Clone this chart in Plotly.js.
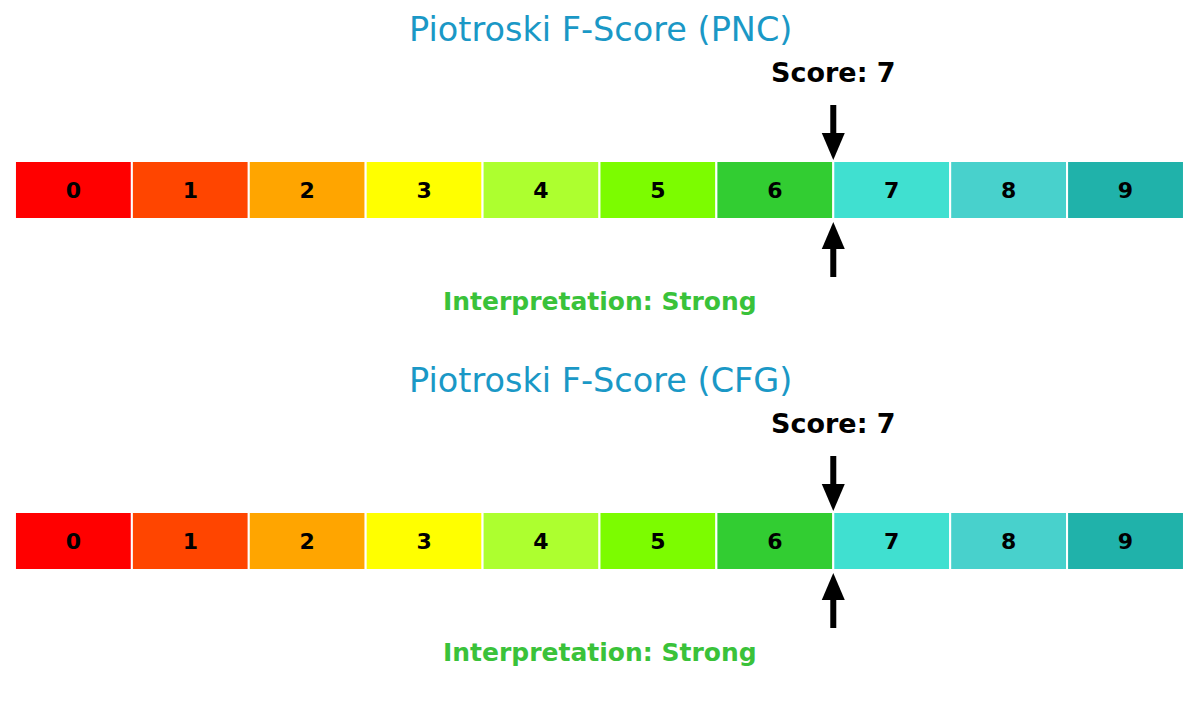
<!DOCTYPE html>
<html>
<head>
<meta charset="utf-8">
<script src="https://cdn.plot.ly/plotly-3.0.1.min.js"></script>
<style>html,body{margin:0;padding:0;background:#fff;}#chart{width:1200px;height:702px;}</style>
</head>
<body>
<div id="chart"></div>
<script>
// ---- data ----
var tickers = ["PNC", "CFG"];
var scores = [7, 7];
var interpretations = ["Strong", "Strong"];
var levels = [0, 1, 2, 3, 4, 5, 6, 7, 8, 9];
var levelLabels = ["0", "1", "2", "3", "4", "5", "6", "7", "8", "9"];
var levelColors = ["#FF0000", "#FF4500", "#FFA500", "#FFFF00", "#ADFF2F",
                   "#7CFC00", "#32CD32", "#40E0D0", "#48D1CC", "#20B2AA"];

// ---- styling constants ----
var FONT = "DejaVu Sans, Verdana, sans-serif";
var titleColor = "#1a98c6";
var interpColor = "#3ac23a";
var PXX = 116.9, PXY = 58; // px per unit (x / y)

var traces = [], annotations = [], shapes = [];
var layout = {
  width: 1200, height: 702,
  margin: {l: 0, r: 0, t: 0, b: 0},
  paper_bgcolor: "#ffffff", plot_bgcolor: "#ffffff",
  showlegend: false,
  bargap: 0
};

tickers.forEach(function (tk, i) {
  var n = i + 1;
  var xa = n === 1 ? "x" : "x" + n;
  var ya = n === 1 ? "y" : "y" + n;
  var xk = n === 1 ? "xaxis" : "xaxis" + n;
  var yk = n === 1 ? "yaxis" : "yaxis" + n;

  layout[xk] = {range: [-0.128, 10.137], visible: false, fixedrange: true,
                domain: [0, 1], anchor: ya};
  layout[yk] = {range: [-2.776, 3.276], visible: false, fixedrange: true,
                domain: i === 0 ? [0.5, 1] : [0, 0.5], anchor: xa};

  traces.push({
    type: "bar", orientation: "h",
    xaxis: xa, yaxis: ya,
    y: levels.map(function () { return 0; }),
    x: levels.map(function () { return 1; }),
    base: levels,
    width: 1,
    marker: {color: levelColors, line: {color: "#ffffff", width: 2}},
    text: levelLabels,
    textposition: "inside",
    insidetextanchor: "middle",
    constraintext: "none",
    textangle: 0,
    textfont: {family: FONT, size: 22, color: "#000000", weight: "bold"},
    hoverinfo: "skip"
  });

  var s = scores[i];
  // title
  annotations.push({
    xref: "paper", yref: ya, x: 0.5, y: 2.76, xanchor: "center", yanchor: "middle",
    text: "Piotroski F-Score (" + tk + ")", showarrow: false,
    font: {family: FONT, size: 33.5, color: titleColor}
  });
  // score label
  annotations.push({
    xref: xa, yref: ya, x: s, y: 2.02, xanchor: "center", yanchor: "middle",
    text: "<b>Score: " + s + "</b>", showarrow: false,
    font: {family: FONT, size: 27, color: "#000000"}
  });
  // interpretation
  annotations.push({
    xref: "paper", yref: ya, x: 0.5, y: -1.93, xanchor: "center", yanchor: "middle",
    text: "<b>Interpretation: " + interpretations[i] + "</b>", showarrow: false,
    font: {family: FONT, size: 25, color: interpColor}
  });

  // arrows (down from above, up from below)
  var headL = 27 / PXY, headW = 11.5 / PXX;
  var downTip = 0.5 + 1 / PXY, downTail = 0.5 + 56 / PXY;
  var upTip = -0.5 - 3 / PXY, upTail = -0.5 - 58 / PXY;
  shapes.push({type: "line", xref: xa, yref: ya, x0: s, x1: s,
               y0: downTail, y1: downTip + headL * 0.9, line: {color: "#000", width: 6}});
  shapes.push({type: "path", xref: xa, yref: ya, line: {width: 0}, fillcolor: "#000",
               path: "M" + (s - headW) + "," + (downTip + headL) + " L" + (s + headW) + "," +
                     (downTip + headL) + " L" + s + "," + downTip + " Z"});
  shapes.push({type: "line", xref: xa, yref: ya, x0: s, x1: s,
               y0: upTail, y1: upTip - headL * 0.9, line: {color: "#000", width: 6}});
  shapes.push({type: "path", xref: xa, yref: ya, line: {width: 0}, fillcolor: "#000",
               path: "M" + (s - headW) + "," + (upTip - headL) + " L" + (s + headW) + "," +
                     (upTip - headL) + " L" + s + "," + upTip + " Z"});
});

layout.annotations = annotations;
layout.shapes = shapes;

Plotly.newPlot("chart", traces, layout, {staticPlot: true, displayModeBar: false});
</script>
</body>
</html>
